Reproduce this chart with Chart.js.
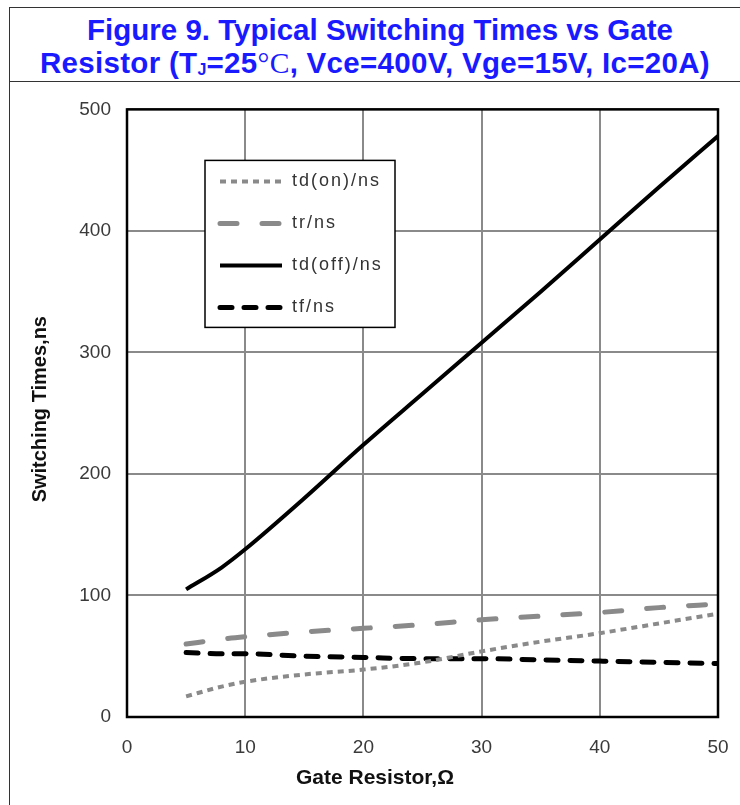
<!DOCTYPE html>
<html>
<head>
<meta charset="utf-8">
<script src="https://cdn.jsdelivr.net/npm/chart.js@4.4.1/dist/chart.umd.min.js"></script>
<style>
    body { margin: 0; background: #fff; overflow: hidden; }
    #frame {
        position: absolute; left: 9px; top: 7px; width: 740px; height: 810px;
        border-left: 1.5px solid #333; border-top: 1.5px solid #333;
    }
    #title {
        height: 74px; border-bottom: 1.5px solid #333; box-sizing: border-box;
        color: #1a1aff; font: bold 29.5px 'Liberation Sans', Arial, sans-serif;
        text-align: center; line-height: 33px; padding-top: 5px; padding-right: 0;
    }
    #title .l2 { letter-spacing: 0.3px; margin-left: -10px; }
    #title sub { font-size: 16px; vertical-align: -2px; }
    #title .deg { font-family: 'Liberation Serif', serif; font-weight: normal; }
    #wrap { position: absolute; left: 10px; top: 82px; width: 730px; height: 723px; }
</style>
</head>
<body>
<div id="frame">
    <div id="title">Figure 9. Typical Switching Times vs Gate<br><span class="l2">Resistor (T<sub>J</sub>=25<span class="deg">°C</span>, Vce=400V, Vge=15V, Ic=20A)</span></div>
</div>
<div id="wrap"><canvas id="chart"></canvas></div>
<script>
// Gate resistor (ohm) sample points
const gateResistor = [5, 8, 10, 15, 20, 25, 30, 35, 40, 45, 50];

// switching times in ns
const tdOn  = [17, 25, 29, 35, 39, 45, 54, 62, 69, 77, 85];
const tr    = [60, 64, 66, 70, 73, 76, 80, 83, 86, 90, 93];
const tdOff = [105, 123, 138, 180, 224, 266, 308, 350, 393, 436, 478];
const tf    = [53, 52, 52, 50, 49, 48, 48, 47, 46, 45, 44];

const seriesLabels = ['td(on)/ns', 'tr/ns', 'td(off)/ns', 'tf/ns'];
const xTitle = 'Gate Resistor,Ω';
const yTitle = 'Switching Times,ns';

const GRAY = '#8a8a8a';

function points(ys) {
    return gateResistor.map((x, i) => ({x, y: ys[i]}));
}

const frameBorder = {
    id: 'frameBorder',
    beforeDatasetsDraw(chart) {
        const {ctx, chartArea: a} = chart;
        ctx.save();
        ctx.strokeStyle = '#000';
        ctx.lineWidth = 2.5;
        ctx.strokeRect(a.left, a.top, a.right - a.left, a.bottom - a.top);
        ctx.restore();
    }
};

// legend box sits inside the plot, like the original figure
const boxLegend = {
    id: 'boxLegend',
    afterDatasetsDraw(chart) {
        const {ctx, chartArea: a} = chart;
        const left = a.left + 78, top = a.top + 51, w = 190, h = 167;
        ctx.save();
        ctx.fillStyle = '#fff';
        ctx.fillRect(left, top, w, h);
        ctx.strokeStyle = '#000';
        ctx.lineWidth = 1.5;
        ctx.strokeRect(left, top, w, h);

        const rows = [21, 63, 105, 147];
        chart.data.datasets.forEach((ds, i) => {
            const y = top + rows[i];
            ctx.beginPath();
            ctx.strokeStyle = ds.borderColor;
            ctx.lineWidth = ds.borderWidth;
            ctx.lineCap = ds.borderCapStyle || 'butt';
            ctx.setLineDash(ds.borderDash || []);
            ctx.moveTo(left + 15, y);
            ctx.lineTo(left + 77, y);
            ctx.stroke();
            ctx.setLineDash([]);
            ctx.fillStyle = '#333';
            ctx.font = '18px "Liberation Sans", Arial, sans-serif';
            ctx.letterSpacing = '2px';
            ctx.textBaseline = 'middle';
            ctx.fillText(ds.label, left + 87, y);
        });
        ctx.restore();
    }
};

const axisTitles = {
    id: 'axisTitles',
    afterDraw(chart) {
        const {ctx, chartArea: a} = chart;
        ctx.save();
        ctx.fillStyle = '#111';
        ctx.font = 'bold 21px "Liberation Sans", Arial, sans-serif';
        ctx.textAlign = 'center';
        ctx.textBaseline = 'middle';
        ctx.fillText(xTitle, chart.width / 2, 696);
        ctx.translate(30, (a.top + a.bottom) / 2 - 4);
        ctx.rotate(-Math.PI / 2);
        ctx.font = 'bold 20px "Liberation Sans", Arial, sans-serif';
        ctx.fillText(yTitle, 0, 0);
        ctx.restore();
    }
};

const tickFont = {family: '"Liberation Sans", Arial, sans-serif', size: 19};

new Chart(document.getElementById('chart'), {
    type: 'line',
    data: {
        datasets: [
            {label: seriesLabels[0], data: points(tdOn), borderColor: GRAY, borderWidth: 4,
                borderDash: [6, 5]},
            {label: seriesLabels[1], data: points(tr), borderColor: GRAY, borderWidth: 5,
                borderDash: [17, 25], borderCapStyle: 'round'},
            {label: seriesLabels[2], data: points(tdOff), borderColor: '#000', borderWidth: 4},
            {label: seriesLabels[3], data: points(tf), borderColor: '#000', borderWidth: 5,
                borderDash: [12, 12], borderCapStyle: 'round'}
        ]
    },
    options: {
        responsive: true,
        maintainAspectRatio: false,
        animation: false,
        layout: {padding: {top: 27, right: 22, bottom: 0, left: 0}},
        elements: {
            point: {radius: 0},
            line: {tension: 0.4, cubicInterpolationMode: 'monotone', fill: false}
        },
        plugins: {
            legend: {display: false},
            title: {display: false},
            tooltip: {enabled: false}
        },
        scales: {
            x: {
                type: 'linear', min: 0, max: 50,
                grid: {color: GRAY, lineWidth: 2, drawTicks: false},
                border: {display: false},
                ticks: {stepSize: 10, padding: 19, color: '#3a3a3a', font: tickFont, maxRotation: 0},
                afterFit(scale) {
                    scale.height = 88;
                    // tick padding would otherwise widen the side margins
                    scale.paddingLeft = 10;
                    scale.paddingRight = 10;
                }
            },
            y: {
                min: 0, max: 500,
                grid: {color: GRAY, lineWidth: 2, drawTicks: false},
                border: {display: false},
                ticks: {stepSize: 100, padding: 16, color: '#3a3a3a', font: tickFont},
                afterFit(scale) { scale.width = 117; }
            }
        }
    },
    plugins: [frameBorder, boxLegend, axisTitles]
});
</script>
</body>
</html>
